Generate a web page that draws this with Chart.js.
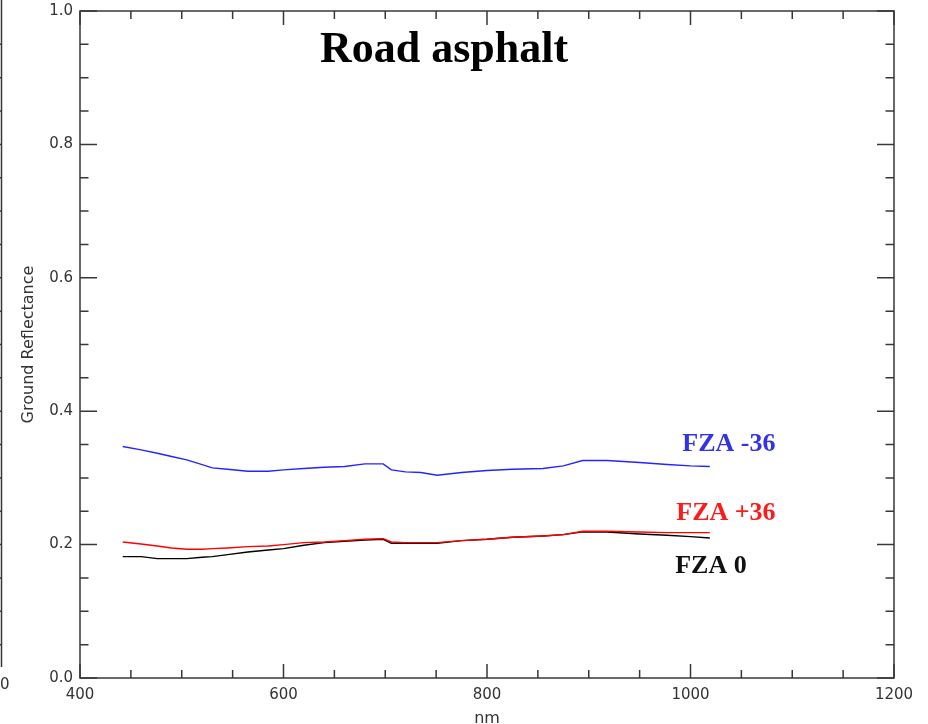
<!DOCTYPE html>
<html>
<head>
<meta charset="utf-8">
<script src="https://cdn.jsdelivr.net/npm/chart.js@4/dist/chart.umd.min.js"></script>
<style>
  html, body { margin: 0; padding: 0; background: #fff; }
  #wrap { position: relative; width: 928px; height: 724px; }
</style>
</head>
<body>
<div id="wrap"><canvas id="c" width="928" height="724"></canvas></div>
<script>
// Wavelength samples (nm)
const wavelengths = [442, 460, 476, 490, 505, 520, 530, 545, 565, 585, 600, 620, 640, 660, 680, 698,
                     706, 720, 735, 751, 775, 800, 825, 855, 875, 894, 918, 950, 977, 1000, 1019];

// Ground reflectance for each forward zenith angle
const fzaMinus36 = [0.347, 0.342, 0.337, 0.332, 0.327, 0.320, 0.315, 0.313, 0.310, 0.310, 0.312, 0.314, 0.316, 0.317, 0.321, 0.321,
                    0.312, 0.309, 0.308, 0.304, 0.308, 0.311, 0.313, 0.314, 0.318, 0.326, 0.326, 0.323, 0.320, 0.318, 0.317];
const fzaPlus36  = [0.204, 0.201, 0.198, 0.195, 0.193, 0.193, 0.194, 0.195, 0.197, 0.198, 0.200, 0.203, 0.204, 0.206, 0.208, 0.209,
                    0.204, 0.203, 0.203, 0.203, 0.206, 0.208, 0.211, 0.213, 0.215, 0.220, 0.220, 0.219, 0.218, 0.218, 0.218];
const fzaZero    = [0.182, 0.182, 0.179, 0.179, 0.179, 0.181, 0.182, 0.185, 0.189, 0.192, 0.194, 0.199, 0.203, 0.205, 0.207, 0.208,
                    0.202, 0.202, 0.202, 0.202, 0.206, 0.208, 0.211, 0.213, 0.215, 0.219, 0.219, 0.216, 0.214, 0.212, 0.210];

const seriesNames = ['FZA -36', 'FZA +36', 'FZA 0'];
const seriesColors = ['#2424ff', '#ff0000', '#000000'];
const labelColors = ['#3232e6', '#ff1a1a', '#111111'];
// Where each series name is written (data coordinates: nm, reflectance of baseline)
const labelAnchors = [[992, 0.340], [986, 0.237], [985, 0.157]];

const xTicks = [400, 600, 800, 1000, 1200];
const yTicks = [0.0, 0.2, 0.4, 0.6, 0.8, 1.0];
const chartTitle = 'Road asphalt';

const toPoints = vals => wavelengths.map((w, i) => ({ x: w, y: vals[i] }));

// Box frame with inward major/minor ticks on all four sides, titles and labels
const framePlugin = {
  id: 'frame',
  afterDraw(chart) {
    const { ctx, chartArea: a, scales: { x, y } } = chart;
    ctx.save();
    ctx.strokeStyle = '#383838';
    ctx.lineWidth = 1.5;
    ctx.strokeRect(a.left, a.top, a.right - a.left, a.bottom - a.top);
    ctx.beginPath();
    for (let v = 400; v <= 1200; v += 50) {
      const px = x.getPixelForValue(v);
      const len = (v % 200 === 0) ? 14 : 8;
      ctx.moveTo(px, a.bottom); ctx.lineTo(px, a.bottom - len);
      ctx.moveTo(px, a.top); ctx.lineTo(px, a.top + len);
    }
    for (let k = 0; k <= 20; k++) {
      const v = k * 0.05;
      const py = y.getPixelForValue(v);
      const len = (k % 4 === 0) ? 17 : 8.5;
      ctx.moveTo(a.left, py); ctx.lineTo(a.left + len, py);
      ctx.moveTo(a.right, py); ctx.lineTo(a.right - len, py);
    }
    ctx.stroke();

    // edge of the neighbouring panel
    ctx.lineWidth = 1.5;
    ctx.beginPath();
    ctx.moveTo(1.5, 0); ctx.lineTo(1.5, 667);
    for (let py = 11 + 33.35; py < 667; py += 33.35) {
      ctx.moveTo(0, py); ctx.lineTo(1.5, py);
    }
    ctx.stroke();
    ctx.fillStyle = '#333';
    ctx.font = '15px "DejaVu Sans"';
    ctx.textAlign = 'left';
    ctx.textBaseline = 'middle';
    ctx.fillText('0', 0, 685);

    // chart title
    ctx.fillStyle = '#000';
    ctx.font = 'bold 44px "Liberation Serif"';
    ctx.textAlign = 'center';
    ctx.textBaseline = 'alphabetic';
    ctx.fillText(chartTitle, 444, 62);

    // series labels
    ctx.font = 'bold 26px "Liberation Serif"';
    ctx.textAlign = 'left';
    seriesNames.forEach((name, i) => {
      ctx.fillStyle = labelColors[i];
      ctx.fillText(name, x.getPixelForValue(labelAnchors[i][0]), y.getPixelForValue(labelAnchors[i][1]));
    });
    ctx.restore();
  }
};

new Chart(document.getElementById('c'), {
  type: 'line',
  data: {
    datasets: [fzaMinus36, fzaPlus36, fzaZero].map((vals, i) => ({
      label: seriesNames[i],
      data: toPoints(vals),
      borderColor: seriesColors[i],
      borderWidth: 1.4,
      pointRadius: 0,
      fill: false,
      tension: 0
    }))
  },
  options: {
    responsive: false,
    animation: false,
    layout: { padding: { top: 11, right: 34, left: 0, bottom: 0 } },
    plugins: { legend: { display: false }, tooltip: { enabled: false } },
    scales: {
      x: {
        type: 'linear', min: 400, max: 1200,
        afterBuildTicks: s => { s.ticks = xTicks.map(v => ({ value: v })); },
        afterFit: s => { s.height = 46; s.paddingLeft = 0; s.paddingRight = 0; },
        grid: { display: false, drawTicks: false },
        border: { display: false },
        ticks: { padding: 8, color: '#333333', font: { family: 'DejaVu Sans', size: 15 }, maxRotation: 0,
                 callback: v => String(v) },
        title: { display: true, text: 'nm', color: '#333333', font: { family: 'DejaVu Sans', size: 16, lineHeight: 1.0 },
                 padding: { top: 0, bottom: -3 } }
      },
      y: {
        type: 'linear', min: 0, max: 1,
        afterBuildTicks: s => { s.ticks = yTicks.map(v => ({ value: v })); },
        afterFit: s => { s.width = 80; s.paddingTop = 0; s.paddingBottom = 0; },
        grid: { display: false, drawTicks: false },
        border: { display: false },
        ticks: { padding: 7, color: '#333333', font: { family: 'DejaVu Sans', size: 15 },
                 callback: v => Number(v).toFixed(1) },
        title: { display: true, text: 'Ground Reflectance', color: '#333333', font: { family: 'DejaVu Sans', size: 16 },
                 padding: { top: 19, bottom: 0 } }
      }
    }
  },
  plugins: [framePlugin]
});
</script>
</body>
</html>
